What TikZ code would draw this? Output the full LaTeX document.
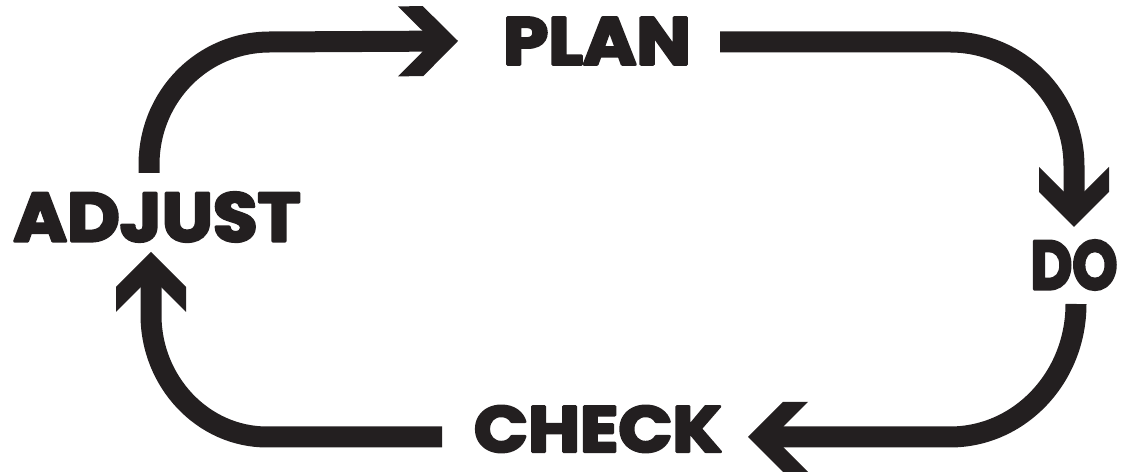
\documentclass[tikz,border=0pt]{standalone}
\usepackage{fontspec}
\usepackage{graphicx}
\newfontfamily\lab{Poppins}[RawFeature={embolden=4}]
\definecolor{ink}{RGB}{35,31,32}
\pgfdeclarearrow{
  name = Chev,
  setup code = {
    \pgfarrowssettipend{0pt}
    \pgfarrowssetlineend{-14pt}
    \pgfarrowssetbackend{-30pt}
    \pgfarrowshullpoint{0pt}{0pt}
    \pgfarrowsupperhullpoint{-30pt}{17.5pt}
  },
  drawing code = {
    \pgfpathmoveto{\pgfpoint{0pt}{0pt}}
    \pgfpathlineto{\pgfpoint{-17.5pt}{17.5pt}}
    \pgfpathlineto{\pgfpoint{-30pt}{17.5pt}}
    \pgfpathlineto{\pgfpoint{-17.75pt}{5.25pt}}
    \pgfpathlineto{\pgfpoint{-17.75pt}{-5.25pt}}
    \pgfpathlineto{\pgfpoint{-30pt}{-17.5pt}}
    \pgfpathlineto{\pgfpoint{-17.5pt}{-17.5pt}}
    \pgfpathclose
    \pgfusepathqfill
  }
}
\begin{document}
\begin{tikzpicture}[x=0.5pt, y=-0.5pt, line join=round, color=ink,
  flow/.style={draw=ink, fill=none, line width=10.5pt, -{Chev}},
  lbl/.style={inner sep=0pt, text=ink, font=\lab\bfseries}]
\useasboundingbox (0,0) rectangle (1137,474);
% labels
\node[lbl] (plan)   at (597,41)   {\resizebox{94pt}{23.5pt}{PLAN}};
\node[lbl] (do)     at (1074,265) {\resizebox{43.5pt}{24.5pt}{DO}};
\node[lbl] (check)  at (598,429)  {\resizebox{124pt}{23pt}{CHECK}};
\node[lbl] (adjust) at (157,217)  {\resizebox{143.5pt}{24.5pt}{ADJUST}};
% connector points
\coordinate (a0) at (149,173);
\coordinate (a1) at (149,165);
\coordinate (a2) at (270,42);
\coordinate (p0) at (720,42);
\coordinate (p1) at (950,42);
\coordinate (p2) at (1074,166);
\coordinate (d0) at (1076,304);
\coordinate (d1) at (950,437);
\coordinate (c0) at (442,437);
\coordinate (c1) at (267,437);
\coordinate (c2) at (151,315);
% connectors
\draw[flow] (a0) -- (a1) .. controls (149,96) and (203,42) .. (a2) -- (plan.west -| 458,0);
\draw[flow] (p0) -- (p1) .. controls (1018.5,42) and (1074,97.5) .. (p2) -- (1074,227);
\draw[flow] (d0) .. controls (1076,377.5) and (1019.6,437) .. (d1) -- (748,437);
\draw[flow] (c0) -- (c1) .. controls (203,437) and (151,382) .. (c2) -- (151,252);
\end{tikzpicture}
\end{document}
